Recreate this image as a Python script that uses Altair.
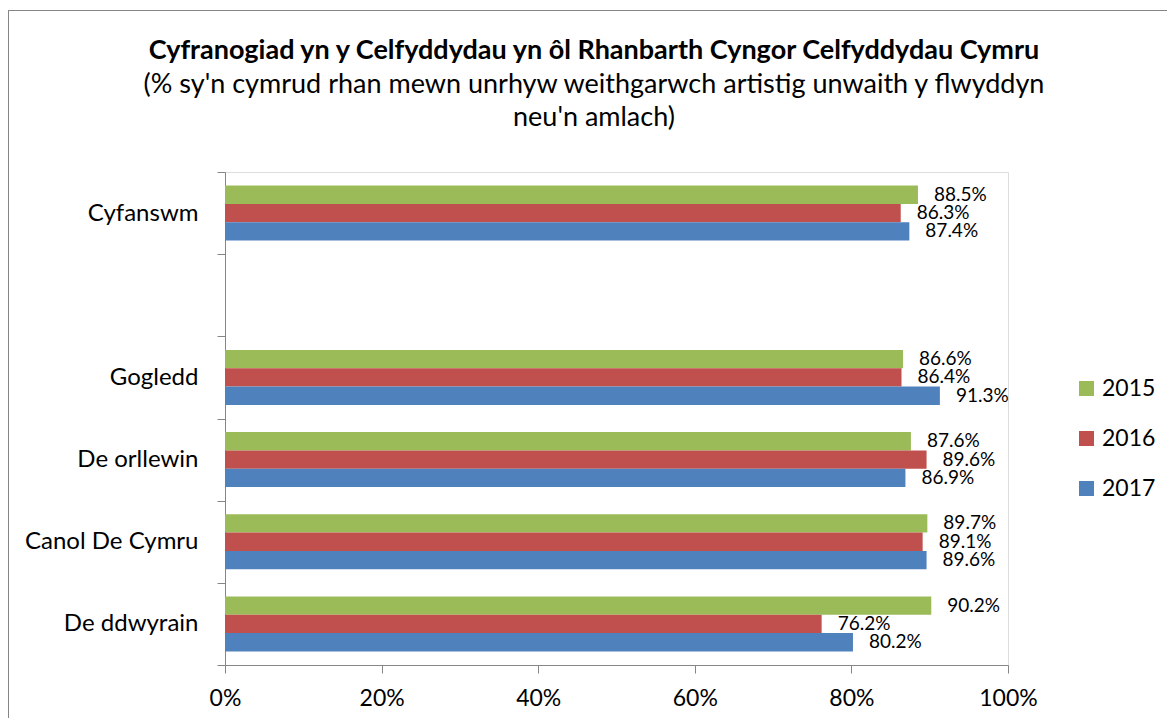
import altair as alt
import pandas as pd

regions = ["Cyfanswm", " ", "Gogledd", "De orllewin", "Canol De Cymru", "De ddwyrain"]
years = ["2015", "2016", "2017"]
colors = ["#9BBB59", "#C0504D", "#4F81BD"]

v2015 = [0.885, 0.866, 0.876, 0.897, 0.902]
v2016 = [0.863, 0.864, 0.896, 0.891, 0.762]
v2017 = [0.874, 0.913, 0.869, 0.896, 0.802]
data_regions = ["Cyfanswm", "Gogledd", "De orllewin", "Canol De Cymru", "De ddwyrain"]

title_lines = [
    "Cyfranogiad yn y Celfyddydau yn ôl Rhanbarth Cyngor Celfyddydau Cymru",
    "(% sy'n cymrud rhan mewn unrhyw weithgarwch artistig unwaith y flwyddyn",
    "neu'n amlach)",
]

rows = []
for yr, vals in zip(years, [v2015, v2016, v2017]):
    for r, v in zip(data_regions, vals):
        rows.append({"region": r, "year": yr, "value": v})
df = pd.DataFrame(rows)

FONT = "Lato"
GRAY = "#868686"

base = alt.Chart(df).encode(
    y=alt.Y("region:N",
            scale=alt.Scale(domain=regions, paddingInner=0, paddingOuter=0),
            axis=alt.Axis(title=None, tickBand="extent", tickSize=8, labelPadding=19,
                          labelFontSize=24, labelFont=FONT, labelColor="#000000",
                          domainColor=GRAY, tickColor=GRAY, labelLimit=300)),
    yOffset=alt.YOffset("year:N", sort=years,
                        scale=alt.Scale(paddingInner=0, paddingOuter=0.74)),
    x=alt.X("value:Q", scale=alt.Scale(domain=[0, 1]),
            axis=alt.Axis(title=None, format="%", values=[0, 0.2, 0.4, 0.6, 0.8, 1.0],
                          grid=False, tickSize=8, labelPadding=14, labelFontSize=23,
                          labelFont=FONT, labelColor="#000000", labelFlush=False,
                          domainColor=GRAY, tickColor=GRAY)),
)

bars = base.mark_bar().encode(
    color=alt.Color("year:N",
                    scale=alt.Scale(domain=years, range=colors),
                    legend=alt.Legend(title=None, orient="none", legendX=850, legendY=205,
                                      symbolType="square", symbolSize=225,
                                      symbolStrokeWidth=0, labelFontSize=23,
                                      labelFont=FONT, labelColor="#000000",
                                      labelOffset=4, rowPadding=26, padding=0))
)

labels = base.mark_text(align="left", baseline="middle", dx=16, fontSize=19,
                        font=FONT, color="#000000").encode(
    text=alt.Text("value:Q", format=".1%")
)

one = pd.DataFrame({"a": [0]})
frame_left = alt.Chart(one).mark_rule(color=GRAY, strokeWidth=1).encode(
    x=alt.value(-216.5), y=alt.value(-162), y2=alt.value(700))
frame_top = alt.Chart(one).mark_rule(color=GRAY, strokeWidth=1).encode(
    x=alt.value(-217), x2=alt.value(1100), y=alt.value(-161.5))

t1 = alt.Chart(pd.DataFrame({"t": [title_lines[0]]})).mark_text(
    font=FONT, fontSize=27, fontWeight="bold", color="#000000",
    align="center", baseline="alphabetic").encode(
    text="t:N", x=alt.value(369), y=alt.value(-113))
t2 = alt.Chart(pd.DataFrame({"t": [title_lines[1]]})).mark_text(
    font=FONT, fontSize=27, color="#000000",
    align="center", baseline="alphabetic").encode(
    text="t:N", x=alt.value(369), y=alt.value(-79))
t3 = alt.Chart(pd.DataFrame({"t": [title_lines[2]]})).mark_text(
    font=FONT, fontSize=27, color="#000000",
    align="center", baseline="alphabetic").encode(
    text="t:N", x=alt.value(369), y=alt.value(-46))

chart = alt.layer(bars, labels, frame_left, frame_top, t1, t2, t3).properties(
    width=783,
    height=493,
    autosize=alt.AutoSizeParams(type="none"),
    padding={"left": 217, "top": 164, "right": 159, "bottom": 53},
).configure_view(stroke=None).configure(background="white")

chart.save("out.html", embed_options={"renderer": "svg", "actions": False})
